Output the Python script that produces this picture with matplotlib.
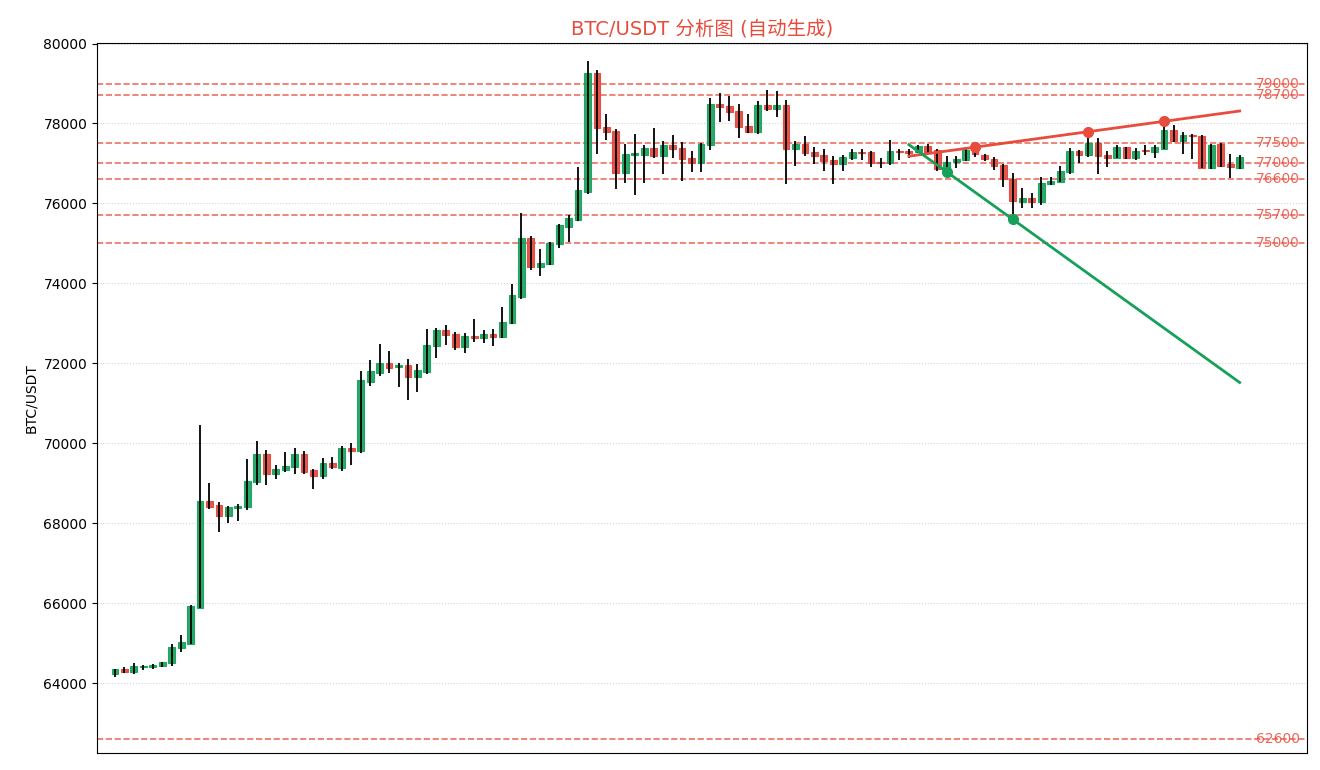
import matplotlib
matplotlib.use("Agg")
import matplotlib.pyplot as plt
import numpy as np

plt.rcParams['font.family'] = ['DejaVu Sans', 'Noto Sans CJK SC']

opens = [64224, 64349, 64274, 64399, 64399, 64424, 64499, 64874, 64990, 65890,
         68549, 68457, 68174, 68374, 68399, 69024, 69724, 69224, 69324, 69399,
         69724, 69324, 69174, 69499, 69391, 69874, 69815, 71540, 71765, 71999,
         71899, 71949, 71665, 71790, 72424, 72824, 72724, 72399, 72674, 72624,
         72724, 72649, 73000, 73665, 75124, 74399, 74474, 74974, 75416, 75591,
         76290, 79274, 77924, 77824, 76749, 77215, 77215, 77399, 77190, 77474,
         77399, 77124, 76999, 77474, 78499, 78449, 78324, 77949, 77799, 78474,
         78374, 78474, 77374, 77499, 77299, 77199, 77074, 76974, 77124, 77299,
         77299, 77024, 76999, 77324, 77307, 77299, 77440, 77349, 76891, 77024,
         77074, 77324, 77224, 77099, 76949, 76599, 76040, 76124, 76024, 76474,
         76524, 76782, 77324, 77199, 77507, 77199, 77124, 77407, 77140, 77349,
         77299, 77374, 77832, 77574, 77724, 77699, 76874, 77499, 76974, 76874]
highs = [64360, 64407, 64507, 64457, 64490, 64540, 64982, 65207, 65957, 70457,
         69007, 68524, 68432, 68482, 69615, 70057, 69832, 69457, 69782, 69882,
         69807, 69357, 69632, 69657, 69932, 70007, 71807, 72082, 72482, 72307,
         71999, 72107, 71982, 72857, 72882, 72957, 72782, 72757, 73107, 72832,
         72857, 73407, 73982, 75749, 75182, 74857, 75024, 75482, 75699, 76907,
         79557, 79349, 78232, 77857, 77482, 77732, 77457, 77882, 77557, 77707,
         77532, 77324, 77524, 78649, 78757, 78699, 78482, 78232, 78557, 78832,
         78807, 78582, 77557, 77682, 77424, 77374, 77174, 77224, 77374, 77374,
         77324, 77124, 77582, 77374, 77357, 77474, 77499, 77360, 77174, 77174,
         77424, 77410, 77230, 77149, 76974, 76749, 76374, 76257, 76657, 76657,
         76932, 77399, 77340, 77790, 77640, 77324, 77457, 77420, 77382, 77457,
         77457, 78057, 77957, 77799, 77730, 77724, 77490, 77524, 77249, 77224]
lows = [64141, 64249, 64216, 64316, 64341, 64407, 64440, 64766, 64980, 65874,
        68365, 67790, 68016, 68066, 68340, 68949, 68949, 69115, 69290, 69240,
        69240, 68865, 69115, 69349, 69316, 69457, 69765, 71441, 71690, 71765,
        71415, 71082, 71290, 71740, 72140, 72465, 72340, 72265, 72540, 72515,
        72440, 72624, 72990, 73615, 74340, 74190, 74464, 74874, 75041, 75566,
        76240, 77240, 77582, 76357, 76516, 76215, 76516, 77140, 76740, 77140,
        76566, 76790, 76790, 77340, 78040, 78065, 77640, 77774, 77749, 78315,
        78165, 76490, 76940, 77174, 76990, 76799, 76490, 76799, 77074, 77074,
        76915, 76874, 76949, 77074, 77124, 77274, 77274, 76799, 76790, 76891,
        77049, 77149, 77049, 76824, 76415, 75600, 75890, 75890, 75957, 76457,
        76524, 76724, 76999, 77165, 76740, 76899, 77124, 77099, 77074, 77199,
        77140, 77374, 77540, 77249, 77099, 76874, 76849, 76899, 76640, 76849]
closes = [64349, 64266, 64424, 64432, 64457, 64524, 64899, 65024, 65932, 68549,
          68415, 68174, 68399, 68432, 69049, 69724, 69224, 69349, 69424, 69724,
          69290, 69174, 69499, 69399, 69874, 69815, 71582, 71807, 71999, 71890,
          71949, 71665, 71824, 72449, 72824, 72699, 72399, 72674, 72624, 72724,
          72649, 73024, 73699, 75124, 74399, 74499, 75000, 75449, 75624, 76332,
          79274, 77899, 77799, 76749, 77249, 77257, 77399, 77190, 77474, 77374,
          77099, 76999, 77499, 78499, 78424, 78299, 77924, 77799, 78474, 78374,
          78474, 77374, 77499, 77274, 77174, 77049, 76974, 77149, 77299, 77274,
          76999, 76999, 77324, 77299, 77274, 77440, 77299, 76849, 77024, 77099,
          77349, 77249, 77099, 76924, 76599, 76050, 76124, 76024, 76499, 76549,
          76807, 77324, 77199, 77507, 77174, 77124, 77407, 77140, 77324, 77315,
          77407, 77832, 77574, 77724, 77682, 76874, 77474, 76924, 76899, 77149]

levels = [79000, 78700, 77500, 77000, 76600, 75700, 75000, 62600]
level_labels = ["79000", "78700", "77500", "77000", "76600", "75700", "75000", "62600"]

res_idx = [91, 103, 111]
res_val = [77410, 77790, 78057]
sup_idx = [88, 95]
sup_val = [76790, 75600]
trend_start = 84

yticks = [64000, 66000, 68000, 70000, 72000, 74000, 76000, 78000, 80000]

title = "BTC/USDT 分析图 (自动生成)"
ylabel = "BTC/USDT"

UP = '#13a05a'
DOWN = '#e0453a'
LINE_RED = '#e74c3c'
LINE_GREEN = '#16a05a'

fig = plt.figure(figsize=(13.2, 7.7), dpi=100)
ax = fig.add_axes([0.0735, 0.022, 0.9165, 0.9225])

n = len(opens)
x = np.arange(n)
o = np.array(opens, float); h = np.array(highs, float)
l = np.array(lows, float); c = np.array(closes, float)
up = c >= o
colors = np.where(up, UP, DOWN)
bottoms = np.minimum(o, c)
heights = np.maximum(np.abs(c - o), 20)

ax.bar(x, heights, bottom=bottoms, width=0.72, color=colors, edgecolor=colors,
       linewidth=0.8, alpha=0.9, zorder=2)
ax.vlines(x, l, h, color='black', linewidth=1.3, zorder=3)

for lv, lab in zip(levels, level_labels):
    ax.axhline(lv, color=LINE_RED, linestyle='--', linewidth=1.2, alpha=0.8, zorder=1)
    ax.text(120.7, lv, lab, color=LINE_RED, alpha=0.85, fontsize=10,
            ha='left', va='center', zorder=4)

xs = np.arange(trend_start, n)
pr = np.polyfit(res_idx, res_val, 1)
ax.plot(xs, np.polyval(pr, xs), color=LINE_RED, linewidth=2, zorder=4)
ax.plot(res_idx, res_val, 'o', color=LINE_RED, markersize=7, zorder=5)
ps = np.polyfit(sup_idx, sup_val, 1)
ax.plot(xs, np.polyval(ps, xs), color=LINE_GREEN, linewidth=2, zorder=4)
ax.plot(sup_idx, sup_val, 'o', color=LINE_GREEN, markersize=7, zorder=5)

ax.set_xlim(-1.9, 126.1)
ax.set_ylim(62250, 80020)
ax.set_yticks(yticks)
ax.set_xticks([])
ax.grid(axis='y', linestyle=':', color='#cccccc', alpha=0.8)
ax.set_axisbelow(True)
ax.set_title(title, color=LINE_RED, fontsize=14, pad=6)
ax.set_ylabel(ylabel)

fig.savefig("out.png", dpi=100)
